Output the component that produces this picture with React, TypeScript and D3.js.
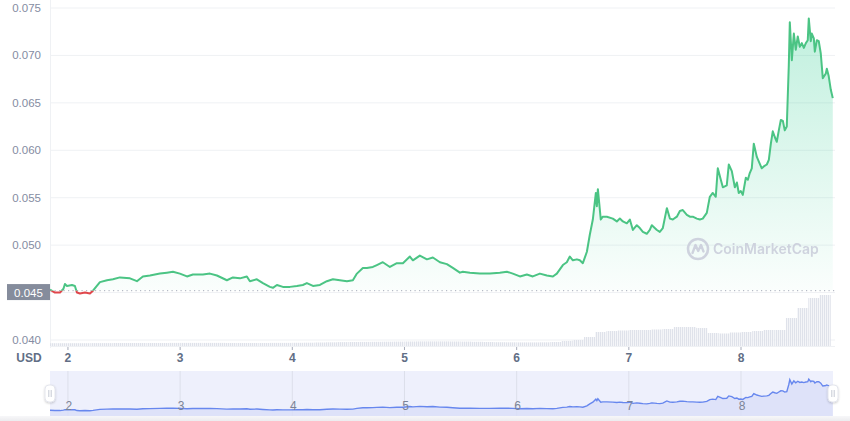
import React from "react";
import * as d3 from "d3";

// ---- DATA ----
const days: number[] = [
  1.840, 1.884, 1.929, 1.960, 1.973, 1.991, 2.036, 2.062, 2.080, 2.107, 2.152, 2.196, 2.223, 2.285, 2.348,
  2.401, 2.463, 2.553, 2.615, 2.668, 2.731, 2.820, 2.882, 2.936, 2.998, 3.061, 3.114, 3.203, 3.266, 3.328,
  3.417, 3.471, 3.533, 3.595, 3.622, 3.684, 3.738, 3.800, 3.827, 3.863, 3.916, 3.979, 4.041, 4.094, 4.130,
  4.184, 4.246, 4.308, 4.362, 4.424, 4.487, 4.540, 4.576, 4.629, 4.665, 4.718, 4.754, 4.807, 4.870, 4.932,
  4.986, 5.048, 5.075, 5.137, 5.200, 5.253, 5.316, 5.378, 5.431, 5.494, 5.520, 5.583, 5.672, 5.761, 5.850,
  5.913, 5.966, 6.029, 6.091, 6.144, 6.207, 6.269, 6.323, 6.358, 6.412, 6.447, 6.474, 6.501, 6.537, 6.563,
  6.590, 6.626, 6.652, 6.679, 6.706, 6.715, 6.724, 6.750, 6.768, 6.804, 6.857, 6.893, 6.920, 6.947, 6.982,
  7.009, 7.036, 7.071, 7.098, 7.125, 7.160, 7.187, 7.205, 7.250, 7.276, 7.303, 7.339, 7.366, 7.392, 7.428,
  7.455, 7.481, 7.517, 7.544, 7.570, 7.606, 7.633, 7.659, 7.695, 7.722, 7.748, 7.775, 7.793, 7.820, 7.838,
  7.873, 7.891, 7.918, 7.945, 7.963, 7.980, 7.998, 8.016, 8.043, 8.061, 8.078, 8.096, 8.114, 8.141, 8.159,
  8.185, 8.203, 8.230, 8.248, 8.266, 8.283, 8.301, 8.319, 8.337, 8.355, 8.373, 8.390, 8.408, 8.426, 8.435,
  8.453, 8.471, 8.488, 8.506, 8.524, 8.542, 8.560, 8.578, 8.595, 8.604, 8.622, 8.631, 8.649, 8.658, 8.676,
  8.693, 8.711, 8.729, 8.756, 8.765, 8.782, 8.800, 8.818,
];

const prices: number[] = [
  0.0453, 0.0450, 0.0450, 0.0454, 0.0459, 0.0457, 0.0458, 0.0457, 0.0450, 0.0449, 0.0450, 0.0449, 0.0452, 0.0461, 0.0463,
  0.0464, 0.0466, 0.0465, 0.0462, 0.0467, 0.0468, 0.0470, 0.0471, 0.0472, 0.0470, 0.0467, 0.0469, 0.0469, 0.0470, 0.0468,
  0.0463, 0.0466, 0.0465, 0.0467, 0.0462, 0.0464, 0.0460, 0.0456, 0.0455, 0.0458, 0.0456, 0.0456, 0.0457, 0.0458, 0.0460,
  0.0457, 0.0458, 0.0462, 0.0464, 0.0463, 0.0462, 0.0463, 0.0470, 0.0476, 0.0476, 0.0477, 0.0479, 0.0482, 0.0477, 0.0481,
  0.0481, 0.0488, 0.0484, 0.0489, 0.0485, 0.0487, 0.0482, 0.0480, 0.0476, 0.0471, 0.0472, 0.0471, 0.0470, 0.0470, 0.0471,
  0.0472, 0.0470, 0.0467, 0.0469, 0.0467, 0.0470, 0.0468, 0.0467, 0.0470, 0.0479, 0.0482, 0.0488, 0.0484, 0.0485, 0.0484,
  0.0481, 0.0493, 0.0511, 0.0527, 0.0555, 0.0541, 0.0559, 0.0527, 0.0530, 0.0530, 0.0528, 0.0525, 0.0528, 0.0525, 0.0523,
  0.0527, 0.0516, 0.0521, 0.0518, 0.0514, 0.0512, 0.0516, 0.0521, 0.0516, 0.0514, 0.0518, 0.0539, 0.0528, 0.0527, 0.0530,
  0.0536, 0.0537, 0.0532, 0.0530, 0.0530, 0.0528, 0.0527, 0.0528, 0.0534, 0.0551, 0.0555, 0.0551, 0.0581, 0.0569, 0.0561,
  0.0563, 0.0585, 0.0578, 0.0561, 0.0566, 0.0555, 0.0557, 0.0553, 0.0571, 0.0569, 0.0576, 0.0581, 0.0607, 0.0593, 0.0588,
  0.0581, 0.0583, 0.0585, 0.0590, 0.0607, 0.0620, 0.0614, 0.0609, 0.0621, 0.0632, 0.0631, 0.0621, 0.0625, 0.0690, 0.0735,
  0.0695, 0.0723, 0.0706, 0.0720, 0.0709, 0.0713, 0.0708, 0.0713, 0.0716, 0.0739, 0.0715, 0.0723, 0.0718, 0.0704, 0.0716,
  0.0715, 0.0702, 0.0676, 0.0681, 0.0686, 0.0678, 0.0664, 0.0655,
];

const volumeDays: number[] = [
  1.85, 1.95, 2.05, 2.15, 2.25, 2.35, 2.45, 2.55, 2.65, 2.75, 2.85, 2.95, 3.05, 3.15, 3.25, 3.35, 3.45, 3.55,
  3.65, 3.75, 3.85, 3.95, 4.05, 4.15, 4.25, 4.35, 4.45, 4.55, 4.65, 4.75, 4.85, 4.95, 5.05, 5.15, 5.25, 5.35,
  5.45, 5.55, 5.65, 5.75, 5.85, 5.95, 6.05, 6.15, 6.25, 6.35, 6.45, 6.55, 6.65, 6.75, 6.85, 6.95, 7.05, 7.15,
  7.25, 7.35, 7.45, 7.55, 7.65, 7.75, 7.85, 7.95, 8.05, 8.15, 8.25, 8.35, 8.45, 8.55, 8.65, 8.75,
];

const volumes: number[] = [
  0.28, 0.28, 0.28, 0.28, 0.29, 0.29, 0.30, 0.30, 0.30, 0.30, 0.30, 0.31, 0.31, 0.31, 0.31, 0.31, 0.30, 0.30,
  0.30, 0.30, 0.31, 0.31, 0.32, 0.33, 0.35, 0.37, 0.39, 0.40, 0.41, 0.42, 0.43, 0.44, 0.45, 0.46, 0.46, 0.46,
  0.45, 0.44, 0.42, 0.40, 0.38, 0.37, 0.36, 0.36, 0.37, 0.40, 0.50, 0.60, 0.90, 1.40, 1.50, 1.55, 1.60, 1.60,
  1.65, 1.70, 1.90, 1.90, 1.80, 1.30, 1.25, 1.35, 1.40, 1.50, 1.60, 1.60, 2.80, 3.80, 4.80, 5.10,
];

const yTicks: number[] = [0.04, 0.045, 0.05, 0.055, 0.06, 0.065, 0.07, 0.075];
const xTicks: number[] = [2, 3, 4, 5, 6, 7, 8];
const baselinePrice = 0.0452;

const GREEN = "#4bc484";
const RED = "#e0474c";
const FONT = "'Liberation Sans', Arial, sans-serif";

export default function App() {
  const W = 850;
  const H = 421;
  const x = d3.scaleLinear().domain([1.84, 8.82]).range([50, 833]);
  const y = d3.scaleLinear().domain([0.04, 0.075]).range([340, 8]);
  const vy = d3.scaleLinear().domain([0, 5.5]).range([346, 291]);
  const ny = d3.scaleLinear().domain([0.04, 0.075]).range([416, 378]);

  const data = days.map((d, i) => ({ d, p: prices[i] }));
  const yBase = y(baselinePrice);

  const line = d3
    .line<{ d: number; p: number }>()
    .x((v) => x(v.d))
    .y((v) => y(v.p));
  const area = d3
    .area<{ d: number; p: number }>()
    .x((v) => x(v.d))
    .y0(yBase)
    .y1((v) => y(v.p));
  const navLine = d3
    .line<{ d: number; p: number }>()
    .x((v) => x(v.d))
    .y((v) => ny(v.p));
  const navArea = d3
    .area<{ d: number; p: number }>()
    .x((v) => x(v.d))
    .y0(416)
    .y1((v) => ny(v.p));

  const halfStep = 0.05;

  return (
    <svg
      width={W}
      height={H}
      style={{ position: "fixed", left: 0, top: 0, background: "#fff" }}
      fontFamily={FONT}
    >
      <defs>
        <linearGradient id="gFill" gradientUnits="userSpaceOnUse" x1="0" y1="8" x2="0" y2={yBase}>
          <stop offset="0" stopColor="#16c784" stopOpacity={0.28} />
          <stop offset="1" stopColor="#16c784" stopOpacity={0.02} />
        </linearGradient>
        <pattern id="volPat" width="2" height="4" patternUnits="userSpaceOnUse">
          <rect x="0" y="0" width="1.2" height="4" fill="#dfe2ea" />
          <rect x="1.2" y="0" width="0.8" height="4" fill="#f3f4f7" />
        </pattern>
        <linearGradient id="bottomShade" x1="0" y1="0" x2="0" y2="1">
          <stop offset="0" stopColor="#f7f7f9" />
          <stop offset="1" stopColor="#ececef" />
        </linearGradient>
        <clipPath id="above">
          <rect x="0" y="0" width={W} height={yBase} />
        </clipPath>
        <clipPath id="below">
          <rect x="0" y={yBase} width={W} height={H - yBase} />
        </clipPath>
        <clipPath id="plot">
          <rect x={50} y={0} width={783} height={H} />
        </clipPath>
        <filter id="shadow" x="-50%" y="-50%" width="200%" height="200%">
          <feDropShadow dx="0" dy="1" stdDeviation="1.2" floodColor="#000" floodOpacity="0.2" />
        </filter>
      </defs>

      {/* gridlines */}
      {yTicks.map((t) => (
        <line key={t} x1={50} x2={835} y1={y(t)} y2={y(t)} stroke="#eff1f4" strokeWidth={1} />
      ))}
      <line x1={50.5} x2={50.5} y1={0} y2={348} stroke="#eff1f4" strokeWidth={1} />
      <line x1={50} x2={835} y1={346.5} y2={346.5} stroke="#eff1f4" strokeWidth={1} />

      {/* volume bars */}
      <g clipPath="url(#plot)">
        {volumeDays.map((d, i) => (
          <rect
            key={d}
            x={x(d - halfStep)}
            y={vy(volumes[i])}
            width={x(d + halfStep) - x(d - halfStep)}
            height={346 - vy(volumes[i])}
            fill="url(#volPat)"
          />
        ))}
      </g>

      {/* price area */}
      <path d={area(data) || ""} fill="url(#gFill)" clipPath="url(#above)" />

      {/* baseline dotted */}
      <line
        x1={50}
        x2={835}
        y1={yBase}
        y2={yBase}
        stroke="#a6abb9"
        strokeWidth={1}
        strokeDasharray="1.2 3.3"
      />

      {/* price line */}
      <path
        d={line(data) || ""}
        fill="none"
        stroke={GREEN}
        strokeWidth={2}
        strokeLinejoin="round"
        clipPath="url(#above)"
      />
      <path
        d={line(data) || ""}
        fill="none"
        stroke={RED}
        strokeWidth={2}
        strokeLinejoin="round"
        clipPath="url(#below)"
      />

      {/* y labels */}
      {yTicks
        .filter((t) => t !== 0.045)
        .map((t) => (
          <text
            key={t}
            x={41}
            y={y(t)}
            dy="0.35em"
            textAnchor="end"
            fontSize={11.5}
            fill="#858ca2"
          >
            {t.toFixed(3)}
          </text>
        ))}
      <rect x={7} y={y(0.045) - 8.5} width={43} height={16} fill="#858c9c" />
      <text x={28.5} y={y(0.045)} dy="0.35em" textAnchor="middle" fontSize={11.5} fill="#ffffff">
        {(0.045).toFixed(3)}
      </text>

      {/* x axis */}
      {xTicks.map((t) => (
        <g key={t}>
          <line x1={x(t)} x2={x(t)} y1={347} y2={350} stroke="#a6abb9" strokeWidth={1} />
          <text x={x(t)} y={358} dy="0.35em" textAnchor="middle" fontSize={12} fontWeight={700} fill="#616e85">
            {t}
          </text>
        </g>
      ))}
      <text x={29} y={358} dy="0.35em" textAnchor="middle" fontSize={12} fontWeight={700} fill="#616e85">
        USD
      </text>

      {/* watermark */}
      <g opacity={0.85}>
        <circle cx={698} cy={249} r={10} fill="none" stroke="#c9ccda" strokeWidth={2.6} />
        <path
          d="M692.5,253 L695.5,245 L698.2,251 L701,245 L703.5,251.5"
          fill="none"
          stroke="#c9ccda"
          strokeWidth={2.4}
          strokeLinejoin="round"
          strokeLinecap="round"
        />
        <text x={713} y={249} dy="0.35em" fontSize={14} fontWeight={600} fill="#c9ccda" fontFamily="Inter, 'Open Sans', sans-serif">
          CoinMarketCap
        </text>
      </g>

      {/* navigator */}
      <rect x={50} y={371} width={783} height={45} fill="#eef0fc" />
      {xTicks.map((t) => (
        <line key={"ng" + t} x1={x(t)} x2={x(t)} y1={371} y2={416} stroke="#dcdfea" strokeWidth={1} />
      ))}
      <path d={navArea(data) || ""} fill="#d9def8" opacity={0.8} />
      <path d={navLine(data) || ""} fill="none" stroke="#6787ee" strokeWidth={1.4} />
      {xTicks.map((t) => (
        <text key={"nl" + t} x={x(t) + 1} y={406} dy="0.35em" textAnchor="middle" fontSize={12} fill="#7c8497">
          {t}
        </text>
      ))}
      <rect x={0} y={416} width={W} height={5} fill="url(#bottomShade)" />

      {/* handles */}
      {[50, 833].map((hx) => (
        <g key={"h" + hx}>
          <rect x={hx - 5} y={385} width={10} height={17} rx={4} fill="#ffffff" stroke="#dde0e8" strokeWidth={0.8} filter="url(#shadow)" />
          <line x1={hx - 1.2} x2={hx - 1.2} y1={390} y2={397} stroke="#b8bdc9" strokeWidth={0.8} />
          <line x1={hx + 1.2} x2={hx + 1.2} y1={390} y2={397} stroke="#b8bdc9" strokeWidth={0.8} />
        </g>
      ))}
    </svg>
  );
}
